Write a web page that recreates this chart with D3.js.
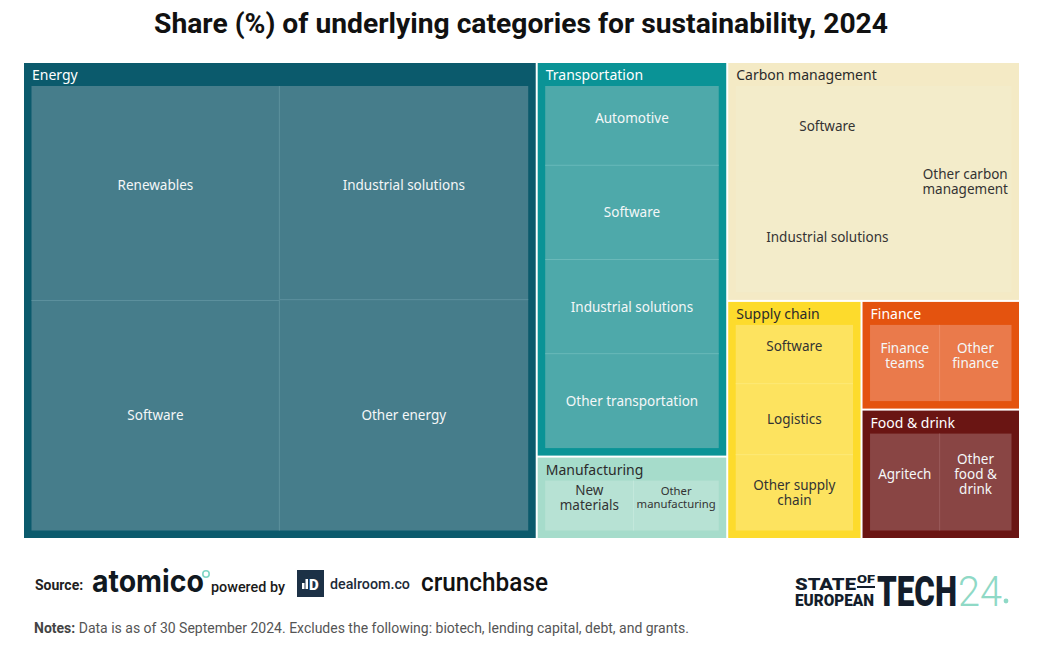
<!DOCTYPE html>
<html><head><meta charset="utf-8">
<script src="https://cdn.jsdelivr.net/npm/d3@7"></script>
<style>body{margin:0;background:#fff;} svg{display:block;}</style>
</head><body>
<svg id="chart" width="1040" height="664"></svg>
<script>
// ---------- data (share %) ----------
const groups = ["Energy","Transportation","Manufacturing","Carbon management","Supply chain","Finance","Food & drink"];
const energyCats = ["Renewables","Software","Industrial solutions","Other energy"];
const energyVals = [12.4, 13.3, 12.4, 13.4];
const transportCats = ["Automotive","Software","Industrial solutions","Other transportation"];
const transportVals = [3.46, 4.11, 4.11, 4.12];
const manufacturingCats = ["New\nmaterials","Other\nmanufacturing"];
const manufacturingVals = [1.68, 1.62];
const carbonCats = ["Software","Industrial solutions","Other carbon\nmanagement"];
const carbonVals = [4.5, 5.27, 4.93];
const supplyCats = ["Software","Logistics","Other supply\nchain"];
const supplyVals = [1.92, 2.32, 2.48];
const financeCats = ["Finance\nteams","Other\nfinance"];
const financeVals = [1.78, 1.84];
const foodCats = ["Agritech","Other\nfood &\ndrink"];
const foodVals = [2.12, 2.19];

const titleText = "Share (%) of underlying categories for sustainability, 2024";
const notesText = " Data is as of 30 September 2024. Excludes the following: biotech, lending capital, debt, and grants.";

// ---------- styles ----------
const parentColor = {"Energy":"#0b5a6c","Transportation":"#0a9396","Manufacturing":"#a6dccb","Carbon management":"#f4eac5","Supply chain":"#fddb2c","Finance":"#e4530f","Food & drink":"#6a1513"};
const childColor  = {"Energy":"#467d8b","Transportation":"#4ea9aa","Manufacturing":"#b7e2d4","Carbon management":"#f3ecca","Supply chain":"#fde35f","Finance":"#ea7a4b","Food & drink":"#894544"};
const lineColor   = {"Energy":"#5f929e","Transportation":"#6cbaba","Manufacturing":"#c4e8dc","Carbon management":"#f3ecca","Supply chain":"#fde978","Finance":"#ee8e66","Food & drink":"#9a5c5b"};
const darkText = new Set(["Manufacturing","Carbon management","Supply chain"]);

// ---------- hierarchy ----------
const leaves = (cats, vals) => cats.map((c, i) => ({name: c, value: vals[i]}));
const cat = (i, cats, vals, tile, cols) => ({name: groups[i], kind: "cat", tile, cols, children: leaves(cats, vals)});
const tree = {name: "root", tile: "dice", children: [
  cat(0, energyCats, energyVals, "cols", [2, 2]),
  {tile: "dice", children: [
    {tile: "slice", children: [cat(1, transportCats, transportVals, "slice"), cat(2, manufacturingCats, manufacturingVals, "dice")]},
    {tile: "slice", children: [
      cat(3, carbonCats, carbonVals, "cols", [2, 1]),
      {tile: "dice", children: [
        cat(4, supplyCats, supplyVals, "slice"),
        {tile: "slice", children: [cat(5, financeCats, financeVals, "dice"), cat(6, foodCats, foodVals, "dice")]}
      ]}
    ]}
  ]}
]};

function tileFn(node, x0, y0, x1, y1) {
  const t = node.data.tile;
  if (t === "dice") d3.treemapDice(node, x0, y0, x1, y1);
  else if (t === "slice") d3.treemapSlice(node, x0, y0, x1, y1);
  else {
    let i = 0, x = x0;
    node.data.cols.forEach(k => {
      const kids = node.children.slice(i, i + k);
      const v = d3.sum(kids, c => c.value);
      const nx = x + (x1 - x0) * v / node.value;
      d3.treemapSlice({children: kids, value: v}, x, y0, nx, y1);
      x = nx; i += k;
    });
  }
}

const isCat = d => d.data.kind === "cat";
const root = d3.hierarchy(tree).sum(d => d.value || 0);
d3.treemap()
  .size([995, 475])
  .tile(tileFn)
  .paddingInner(d => isCat(d) ? 0 : 2)
  .paddingTop(d => isCat(d) ? 23 : 0)
  .paddingLeft(d => isCat(d) ? 7.5 : 0)
  .paddingRight(d => isCat(d) ? 7.5 : 0)
  .paddingBottom(d => isCat(d) ? 7.5 : 0)
  .round(false)(root);

const svg = d3.select("#chart");
const FONT = "'Noto Sans', 'Open Sans', sans-serif";

// title
svg.append("text").attr("x", 521).attr("y", 33).attr("text-anchor", "middle")
  .attr("font-family", "Roboto, sans-serif").attr("font-weight", 700).attr("font-size", 28)
  .attr("fill", "#111").attr("textLength", 734).attr("lengthAdjust", "spacingAndGlyphs").text(titleText);

const g = svg.append("g").attr("transform", "translate(24,63)");
const cats = root.descendants().filter(isCat);

// parent rects
g.selectAll("rect.cat").data(cats).join("rect").attr("class", "cat")
  .attr("x", d => d.x0).attr("y", d => d.y0)
  .attr("width", d => d.x1 - d.x0).attr("height", d => d.y1 - d.y0)
  .attr("fill", d => parentColor[d.data.name]);

// headers
g.selectAll("text.hdr").data(cats).join("text").attr("class", "hdr")
  .attr("x", d => d.x0 + 8).attr("y", d => d.y0 + 17)
  .attr("font-family", FONT).attr("font-size", 14)
  .attr("fill", d => darkText.has(d.data.name) ? "#2b2b2b" : "#ffffff")
  .text(d => d.data.name);

const lvs = cats.flatMap(c => c.children.map(l => ({l, c})));

// leaf rects
g.selectAll("rect.leaf").data(lvs).join("rect").attr("class", "leaf")
  .attr("x", d => d.l.x0).attr("y", d => d.l.y0)
  .attr("width", d => d.l.x1 - d.l.x0).attr("height", d => d.l.y1 - d.l.y0)
  .attr("fill", d => childColor[d.c.data.name]);

// internal dividers
lvs.forEach(({l, c}) => {
  const minX = d3.min(c.children, k => k.x0), minY = d3.min(c.children, k => k.y0);
  if (l.x0 > minX + 0.5) g.append("line").attr("x1", l.x0).attr("x2", l.x0).attr("y1", l.y0).attr("y2", l.y1)
    .attr("stroke", lineColor[c.data.name]).attr("stroke-width", 1);
  if (l.y0 > minY + 0.5) g.append("line").attr("x1", l.x0).attr("x2", l.x1).attr("y1", l.y0).attr("y2", l.y0)
    .attr("stroke", lineColor[c.data.name]).attr("stroke-width", 1);
});

// leaf labels
lvs.forEach(({l, c}) => {
  const lines = l.data.name.split("\n");
  const minY = d3.min(c.children, k => k.y0);
  const cx = (l.x0 + l.x1) / 2;
  const cy = (l.y0 + l.y1) / 2 - (l.y0 <= minY + 0.5 ? 8 : 0);
  const t = g.append("text").attr("text-anchor", "middle")
    .attr("font-family", FONT).attr("font-size", 13.5)
    .attr("fill", darkText.has(c.data.name) ? "#333333" : "#f4f7f8");
  lines.forEach((s, i) => t.append("tspan").attr("x", cx)
    .attr("y", cy + (i - (lines.length - 1) / 2) * 15 + 5).text(s));
  const w = d3.max(t.selectAll("tspan").nodes(), n => n.getComputedTextLength());
  const avail = (l.x1 - l.x0) - 6;
  if (w > avail) {
    const fs = 13.5 * avail / w;
    t.attr("font-size", fs);
    t.selectAll("tspan").attr("y", (s, i) => cy + (i - (lines.length - 1) / 2) * fs * 1.1 + fs * 0.35);
  }
});

// ---------- footer ----------
const F = "Roboto, sans-serif";
// draws a text squeezed horizontally to a target width (logo lettering)
function fitText(x, y, str, size, weight, fill, target, family) {
  const t = svg.append("text").attr("font-family", family || F).attr("font-weight", weight)
    .attr("font-size", size).attr("fill", fill).text(str);
  const w = t.node().getComputedTextLength();
  t.attr("transform", `translate(${x},${y}) scale(${target / w},1)`);
  return t;
}
svg.append("text").attr("x", 35).attr("y", 590).attr("font-family", F).attr("font-weight", 700)
  .attr("font-size", 14).attr("fill", "#222").text("Source:");
fitText(92, 592, "atomico", 31, 700, "#101820", 112, "Inter, sans-serif");
svg.append("circle").attr("cx", 206).attr("cy", 574).attr("r", 3.2).attr("fill", "none")
  .attr("stroke", "#7fd6c6").attr("stroke-width", 1.6);
fitText(211, 592, "powered by", 14, 500, "#1a1a1a", 74);
svg.append("rect").attr("x", 297).attr("y", 570).attr("width", 27).attr("height", 27).attr("fill", "#1c3146");
svg.append("rect").attr("x", 302).attr("y", 583).attr("width", 2.5).attr("height", 6).attr("fill", "#fff");
svg.append("rect").attr("x", 305.5).attr("y", 579).attr("width", 2.5).attr("height", 10).attr("fill", "#fff");
svg.append("text").attr("x", 309).attr("y", 590).attr("font-family", F).attr("font-weight", 900)
  .attr("font-size", 15).attr("fill", "#fff").text("D");
fitText(330, 589, "dealroom.co", 15, 500, "#1c2a38", 80);
fitText(421, 591, "crunchbase", 26, 500, "#111", 127);

const notes = svg.append("text").attr("x", 34).attr("y", 633).attr("font-family", F)
  .attr("font-size", 14).attr("fill", "#555");
notes.append("tspan").attr("font-weight", 700).attr("fill", "#444").text("Notes:");
notes.append("tspan").text(notesText);

// State of European Tech logo
const LC = "#131d2b";
fitText(795, 590, "STATE", 17, 900, LC, 61);
fitText(857, 583, "OF", 11, 900, LC, 18);
svg.append("rect").attr("x", 857).attr("y", 586).attr("width", 18).attr("height", 2).attr("fill", LC);
fitText(795, 606, "EUROPEAN", 16, 900, LC, 79);
fitText(877, 606, "TECH", 42, 900, LC, 80);
fitText(958, 606, "24", 42, 300, "#8fd9c6", 44);
svg.append("circle").attr("cx", 1006).attr("cy", 601).attr("r", 2.4).attr("fill", "#8fd9c6");
</script>
</body></html>
